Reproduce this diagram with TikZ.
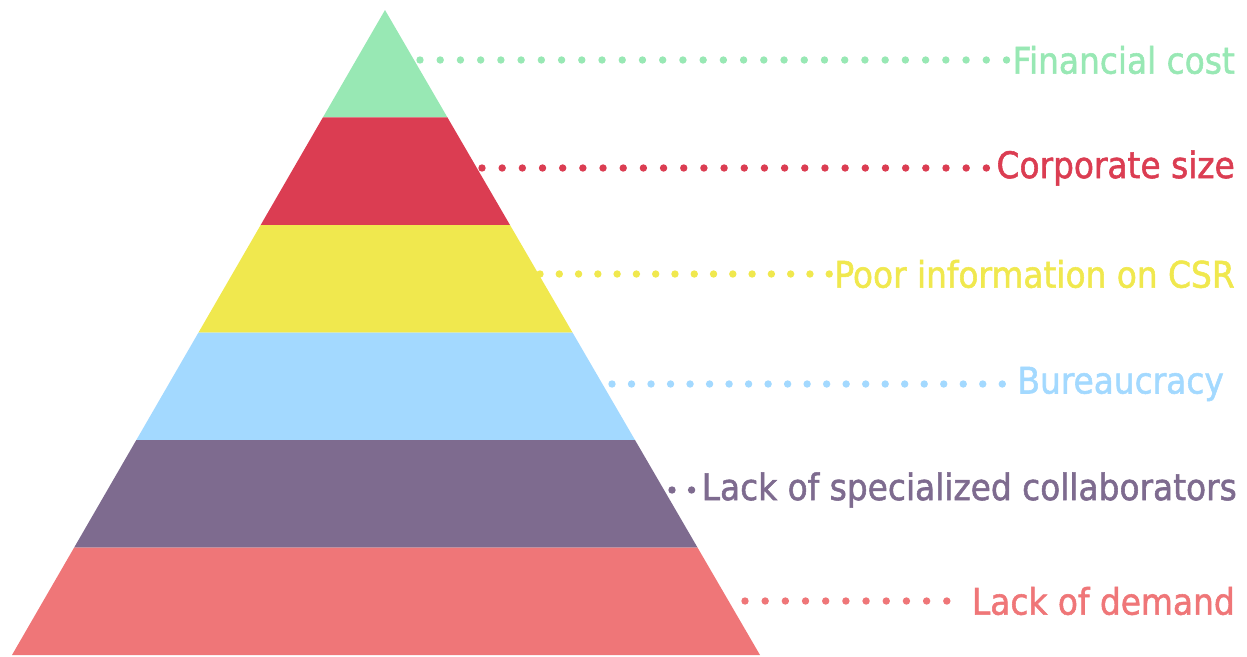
\documentclass[tikz,border=0pt]{standalone}
\usepackage{fontspec}
\setmainfont{DejaVu Sans Condensed}[FakeBold=1.5]
\definecolor{tiergreen}{HTML}{98E8B4}
\definecolor{tierred}{HTML}{DB3D52}
\definecolor{tieryellow}{HTML}{F0E84E}
\definecolor{tierblue}{HTML}{A3D9FF}
\definecolor{tierpurple}{HTML}{7E6B8F}
\definecolor{tiersalmon}{HTML}{EF7678}
\usetikzlibrary{calc}
\tikzset{
  tier_label/.style={anchor=east,inner sep=0pt,font=\fontsize{36.5}{40}\selectfont},
  dot/.style={radius=3.7pt},
}

\begin{document}
\begin{tikzpicture}[x=1pt,y=-1pt]
  \useasboundingbox (0,0) rectangle (1247,656);

  % pyramid tiers, top to bottom
  \coordinate (apex) at (385,10);
  \coordinate (bl) at (12,655);
  \coordinate (br) at (760,655);
  \fill[tiergreen] (apex) -- ($(apex)!1/6!(bl)$) -- ($(apex)!1/6!(br)$) -- cycle;
  \fill[tierred] ($(apex)!1/6!(bl)$) -- ($(apex)!2/6!(bl)$) -- ($(apex)!2/6!(br)$) -- ($(apex)!1/6!(br)$) -- cycle;
  \fill[tieryellow] ($(apex)!2/6!(bl)$) -- ($(apex)!3/6!(bl)$) -- ($(apex)!3/6!(br)$) -- ($(apex)!2/6!(br)$) -- cycle;
  \fill[tierblue] ($(apex)!3/6!(bl)$) -- ($(apex)!4/6!(bl)$) -- ($(apex)!4/6!(br)$) -- ($(apex)!3/6!(br)$) -- cycle;
  \fill[tierpurple] ($(apex)!4/6!(bl)$) -- ($(apex)!5/6!(bl)$) -- ($(apex)!5/6!(br)$) -- ($(apex)!4/6!(br)$) -- cycle;
  \fill[tiersalmon] ($(apex)!5/6!(bl)$) -- (bl) -- (br) -- ($(apex)!5/6!(br)$) -- cycle;

  % labels
  \node[tier_label,text=tiergreen] (cost) at (1235,60) {Financial cost};
  \node[tier_label,text=tierred] (size) at (1235,168) {Corporate size};
  \node[tier_label,text=tieryellow] (info) at (1235,274) {Poor information on CSR};
  \node[tier_label,text=tierblue] (bureau) at (1224,384) {Bureaucracy};
  \node[tier_label,text=tierpurple] (staff) at (1237,490) {Lack of specialized collaborators};
  \node[tier_label,text=tiersalmon] (demand) at (1235,601) {Lack of demand};

  % dotted leaders: pyramid edge -> label
  \coordinate (c1) at (420,60);  \coordinate (e1) at ([xshift=-6pt]cost.west);
  \coordinate (c2) at (482,168); \coordinate (e2) at ([xshift=-10pt]size.west);
  \coordinate (c3) at (540,274); \coordinate (e3) at ([xshift=-5pt]info.west);
  \coordinate (c4) at (612,384); \coordinate (e4) at ([xshift=-15pt]bureau.west);
  \coordinate (c5) at (672,490); \coordinate (e5) at ([xshift=-10pt]staff.west);
  \coordinate (c6) at (745,601); \coordinate (e6) at ([xshift=-25pt]demand.west);
  \foreach \k in {0,...,29} \fill[tiergreen,dot] ($(c1)!\k/29!(e1)$) circle;
  \foreach \k in {0,...,25} \fill[tierred,dot] ($(c2)!\k/25!(e2)$) circle;
  \foreach \k in {0,...,15} \fill[tieryellow,dot] ($(c3)!\k/15!(e3)$) circle;
  \foreach \k in {0,...,20} \fill[tierblue,dot] ($(c4)!\k/20!(e4)$) circle;
  \foreach \k in {0,1} \fill[tierpurple,dot] ($(c5)!\k!(e5)$) circle;
  \foreach \k in {0,...,10} \fill[tiersalmon,dot] ($(c6)!\k/10!(e6)$) circle;
\end{tikzpicture}
\end{document}
